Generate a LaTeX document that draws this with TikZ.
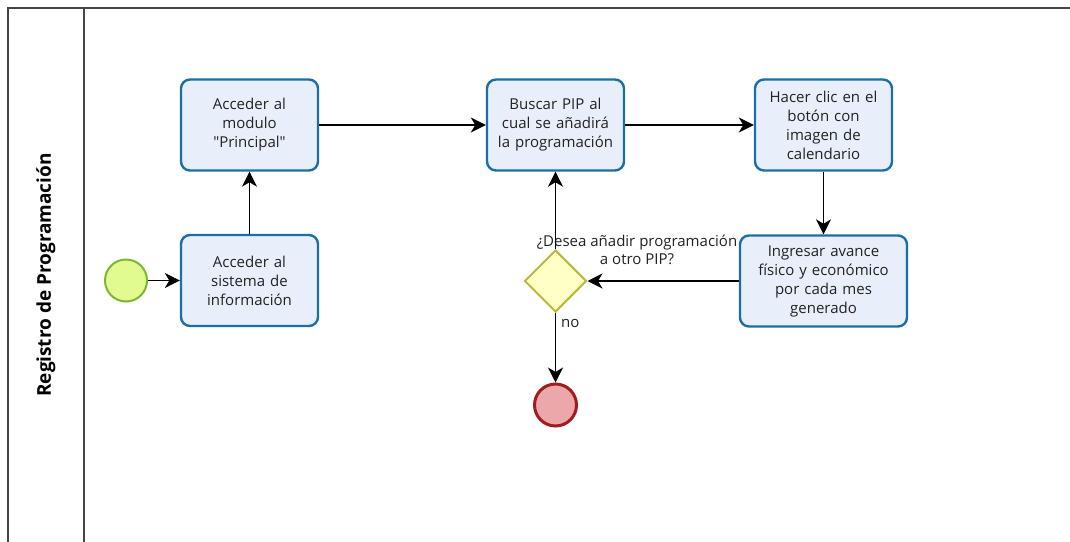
\documentclass[tikz,border=0pt]{standalone}
\usepackage{fontspec}
\setmainfont{Open Sans}
\usetikzlibrary{positioning,arrows.meta,shapes.geometric}

\definecolor{taskline}{HTML}{1B6FA3}
\definecolor{taskfill}{HTML}{E9EEFB}
\definecolor{startline}{HTML}{7DB731}
\definecolor{startfill}{HTML}{E2FB90}
\definecolor{endline}{HTML}{A11C1F}
\definecolor{endfill}{HTML}{EBA7AA}
\definecolor{gateline}{HTML}{B9B93D}
\definecolor{gatefill}{HTML}{FFFFC6}
\definecolor{poolline}{HTML}{454545}
\definecolor{labeltext}{HTML}{222222}

\begin{document}
\begin{tikzpicture}[x=1pt, y=1pt, auto, thick,
	task node/.style={rectangle, rounded corners=9pt, draw=taskline, fill=taskfill,
		line width=2.4pt, minimum width=137pt, minimum height=91pt, text width=128pt,
		align=center, text=labeltext, font=\fontsize{15}{19}\selectfont},
	start node/.style={circle, draw=startline, fill=startfill, line width=2pt, minimum size=42pt},
	end node/.style={circle, draw=endline, fill=endfill, line width=3pt, minimum size=42pt},
	gate node/.style={diamond, draw=gateline, fill=gatefill, line width=2pt, minimum size=62pt, inner sep=0pt},
	flow/.style={line width=1.4pt, -{Stealth[length=15pt, width=15pt, inset=4.5pt]}},
	small text/.style={text=labeltext, font=\fontsize{15}{18}\selectfont, align=center}]

	\useasboundingbox (0,0) rectangle (1070,-541);

	% pool and lane
	\draw[poolline, line width=1.5pt] (1080,-8) -- (8,-8) -- (8,-550);
	\draw[poolline, line width=1.5pt] (84,-8) -- (84,-550);
	\node[rotate=90, text=black, font=\fontsize{19}{22}\selectfont\bfseries] (lane) at (46,-275) {Registro de Programación};

	\node[task node] (sistema) at (249.5,-280.5) {Acceder al\\ sistema de\\ información};
	\node[start node] (inicio) [left of=sistema, node distance=123.5pt] {};
	\node[task node] (modulo) [above of=sistema, node distance=155.5pt] {Acceder al\\ modulo\\ \textquotedbl Principal\textquotedbl};
	\node[task node] (buscar) [right of=modulo, node distance=306pt] {Buscar PIP al\\ cual se añadirá\\ la programación};
	\node[task node] (clic) [right of=buscar, node distance=268pt] {Hacer clic en el\\ botón con\\ imagen de\\ calendario};
	\node[task node, minimum width=167pt, text width=156pt] (avance) [below of=clic, node distance=156pt] {Ingresar avance\\ físico y económico\\ por cada mes\\ generado};
	\node[gate node] (otro) [left of=avance, node distance=268pt] {};
	\node[end node] (fin) [below of=otro, node distance=124pt] {};
	\node[small text] (pregunta) at (637,-250) {¿Desea añadir programación\\ a otro PIP?};

	\path[flow, every node/.style={small text}]
	 (inicio) edge (sistema)
	 (sistema) edge (modulo)
	 (modulo) edge (buscar)
	 (buscar) edge (clic)
	 (clic) edge (avance)
	 (avance) edge (otro)
	 (otro) edge (buscar)
	 (otro) edge node[pos=0.15, inner sep=5pt] {no} (fin);

\end{tikzpicture}
\end{document}
